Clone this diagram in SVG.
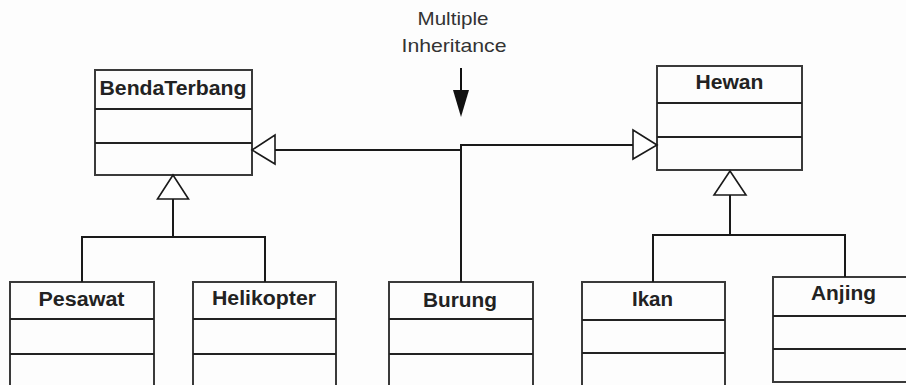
<svg xmlns="http://www.w3.org/2000/svg" width="906" height="385" viewBox="0 0 906 385">
  <style>
    .box { fill: #fdfdfd; stroke: #3a3a3a; stroke-width: 2; }
    .div { stroke: #222; stroke-width: 2; }
    .name { font-family: "Liberation Sans", Arial, sans-serif; font-weight: bold; font-size: 19.5px; fill: #222; text-anchor: middle; }
    .note { font-family: "Liberation Sans", Arial, sans-serif; font-size: 18.5px; fill: #333; text-anchor: middle; }
    .conn { fill: none; stroke: #1a1a1a; stroke-width: 2; }
    .gen { fill: #fff; stroke: #1a1a1a; stroke-width: 1.6; stroke-linejoin: miter; }
  </style>
  <rect width="906" height="385" fill="#fdfdfd"/>

  <!-- Superclasses -->
  <g id="BendaTerbang">
    <rect class="box" x="95" y="70" width="157" height="105"/>
    <line class="div" x1="95" y1="109" x2="252" y2="109"/>
    <line class="div" x1="95" y1="143" x2="252" y2="143"/>
    <text class="name" x="173" y="95" textLength="147" lengthAdjust="spacingAndGlyphs">BendaTerbang</text>
  </g>
  <g id="Hewan">
    <rect class="box" x="657" y="66" width="145" height="104"/>
    <line class="div" x1="657" y1="103" x2="802" y2="103"/>
    <line class="div" x1="657" y1="137" x2="802" y2="137"/>
    <text class="name" x="729.5" y="89" textLength="68" lengthAdjust="spacingAndGlyphs">Hewan</text>
  </g>

  <!-- Subclasses -->
  <g id="Pesawat">
    <rect class="box" x="10" y="282" width="144" height="110"/>
    <line class="div" x1="10" y1="319" x2="154" y2="319"/>
    <line class="div" x1="10" y1="354" x2="154" y2="354"/>
    <text class="name" x="81.5" y="306" textLength="86" lengthAdjust="spacingAndGlyphs">Pesawat</text>
  </g>
  <g id="Helikopter">
    <rect class="box" x="193" y="282" width="143" height="110"/>
    <line class="div" x1="193" y1="319" x2="336" y2="319"/>
    <line class="div" x1="193" y1="354" x2="336" y2="354"/>
    <text class="name" x="264" y="305" textLength="104" lengthAdjust="spacingAndGlyphs">Helikopter</text>
  </g>
  <g id="Burung">
    <rect class="box" x="389" y="282" width="144" height="110"/>
    <line class="div" x1="389" y1="319" x2="533" y2="319"/>
    <line class="div" x1="389" y1="354" x2="533" y2="354"/>
    <text class="name" x="460" y="307" textLength="74" lengthAdjust="spacingAndGlyphs">Burung</text>
  </g>
  <g id="Ikan">
    <rect class="box" x="582" y="282" width="143" height="110"/>
    <line class="div" x1="582" y1="320" x2="725" y2="320"/>
    <line class="div" x1="582" y1="353" x2="725" y2="353"/>
    <text class="name" x="652.5" y="306" textLength="41" lengthAdjust="spacingAndGlyphs">Ikan</text>
  </g>
  <g id="Anjing">
    <rect class="box" x="773" y="277" width="140" height="105"/>
    <line class="div" x1="773" y1="316" x2="913" y2="316"/>
    <line class="div" x1="773" y1="349" x2="913" y2="349"/>
    <text class="name" x="843.5" y="300" textLength="65" lengthAdjust="spacingAndGlyphs">Anjing</text>
  </g>

  <!-- Connectors -->
  <g id="connectors">
    <!-- Pesawat / Helikopter to BendaTerbang -->
    <path class="conn" d="M82,282 V237 H265 V282 M173,237 V199"/>
    <polygon class="gen" points="173,175 157.5,199 188.5,199"/>
    <!-- Ikan / Anjing to Hewan -->
    <path class="conn" d="M653,282 V235 H845 V277 M730,235 V195"/>
    <polygon class="gen" points="730,171 714,195 746,195"/>
    <!-- Burung to both superclasses -->
    <path class="conn" d="M461,282 V145 H633 M461,150 H275"/>
    <polygon class="gen" points="252,150 275,135 275,164"/>
    <polygon class="gen" points="657,145 633,130 633,159"/>
  </g>

  <!-- Annotation -->
  <g id="note">
    <text class="note" x="453" y="25" textLength="71" lengthAdjust="spacingAndGlyphs">Multiple</text>
    <text class="note" x="454" y="52" textLength="105" lengthAdjust="spacingAndGlyphs">Inheritance</text>
    <line x1="461" y1="68" x2="461" y2="92" stroke="#111" stroke-width="2"/>
    <polygon points="453,90 469,90 461,117" fill="#111"/>
  </g>
</svg>
